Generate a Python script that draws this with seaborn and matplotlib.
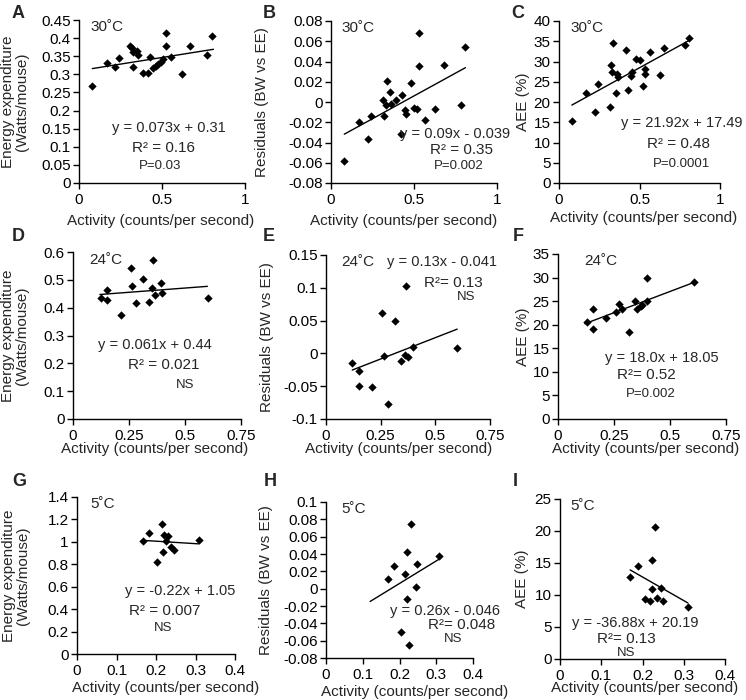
import matplotlib
matplotlib.use("Agg")
import matplotlib.pyplot as plt
import seaborn as sns

# Activity (counts/per second) and response values.
# 30 C
x_30_ee = [0.076, 0.167, 0.217, 0.241, 0.307, 0.317, 0.327, 0.347, 0.357, 0.323,
           0.388, 0.414, 0.428, 0.448, 0.464, 0.478, 0.492, 0.508, 0.524, 0.524,
           0.554, 0.619, 0.669, 0.769, 0.799]
ee_30 = [0.269, 0.331, 0.319, 0.344, 0.379, 0.372, 0.363, 0.365, 0.354, 0.320,
         0.303, 0.303, 0.349, 0.317, 0.323, 0.329, 0.335, 0.342, 0.414, 0.377,
         0.347, 0.301, 0.377, 0.352, 0.406]

x_30_res = [0.080, 0.168, 0.223, 0.243, 0.317, 0.315, 0.336, 0.331, 0.358, 0.362,
            0.393, 0.428, 0.419, 0.448, 0.454, 0.481, 0.501, 0.521, 0.529, 0.531,
            0.565, 0.628, 0.683, 0.781, 0.806]
res_30 = [-0.0586, -0.0197, -0.0368, -0.0141, -0.0134, 0.0023, 0.0204, -0.0033, 0.0099, -0.0016,
          0.0023, 0.0066, -0.0312, -0.0082, -0.0122, 0.0191, -0.0059, -0.0072, 0.0356, 0.0681,
          -0.0181, -0.0072, 0.0362, -0.0033, 0.0543]

x_30_aee = [0.083, 0.170, 0.224, 0.244, 0.315, 0.321, 0.327, 0.335, 0.356, 0.362,
            0.368, 0.414, 0.430, 0.445, 0.455, 0.480, 0.501, 0.522, 0.532, 0.532,
            0.563, 0.625, 0.652, 0.781, 0.807]
aee_30 = [15.3, 22.3, 17.5, 24.4, 18.8, 29.2, 27.4, 34.6, 22.1, 26.8,
          26.2, 32.8, 22.9, 26.3, 27.4, 30.7, 30.3, 24.0, 28.2, 27.0,
          32.3, 26.6, 33.4, 34.0, 35.8]

# 24 C
x_24_ee = [0.124, 0.150, 0.153, 0.213, 0.258, 0.265, 0.280, 0.314, 0.339, 0.351,
           0.358, 0.366, 0.391, 0.396, 0.604]
ee_24 = [0.433, 0.465, 0.429, 0.373, 0.544, 0.477, 0.417, 0.504, 0.421, 0.472,
         0.573, 0.445, 0.489, 0.453, 0.433]

x_24_res = [0.120, 0.152, 0.152, 0.212, 0.255, 0.267, 0.285, 0.316, 0.343, 0.361,
            0.365, 0.374, 0.400, 0.600]
res_24 = [-0.0148, -0.0275, -0.0493, -0.0519, 0.0623, -0.0047, -0.0772, 0.0496, -0.0113, -0.0021,
          0.1029, -0.0056, 0.0105, 0.0085]

x_24_aee = [0.129, 0.156, 0.156, 0.215, 0.259, 0.271, 0.285, 0.315, 0.343, 0.354,
            0.369, 0.376, 0.396, 0.396, 0.607]
aee_24 = [20.5, 23.3, 19.0, 21.4, 22.8, 24.4, 23.3, 18.5, 25.1, 23.3,
          24.0, 24.2, 30.0, 25.1, 29.0]

# 5 C
x_5_ee = [0.168, 0.183, 0.203, 0.214, 0.218, 0.220, 0.225, 0.231, 0.239, 0.246, 0.308]
ee_5 = [1.011, 1.079, 0.821, 1.162, 0.906, 1.058, 1.005, 1.055, 0.951, 0.930, 1.013]

x_5_res = [0.169, 0.186, 0.204, 0.215, 0.221, 0.221, 0.226, 0.231, 0.245, 0.248, 0.307]
res_5 = [0.0115, 0.0257, -0.0500, 0.0170, 0.0419, -0.0115, -0.0646, 0.0750, 0.0015, 0.0285, 0.0373]

x_5_aee = [0.170, 0.188, 0.207, 0.219, 0.223, 0.224, 0.231, 0.235, 0.246, 0.250, 0.311]
aee_5 = [12.8, 14.6, 9.4, 9.1, 15.4, 10.9, 20.7, 9.6, 11.1, 9.1, 8.2]

# Published linear fits: slope, intercept, x range of the drawn line
fit_slope = [0.073, 0.09, 21.92, 0.061, 0.13, 18.0, -0.22, 0.26, -36.88]
fit_intercept = [0.31, -0.039, 17.49, 0.44, -0.041, 18.05, 1.05, -0.046, 20.19]
fit_x0 = [0.08, 0.08, 0.08, 0.12, 0.12, 0.12, 0.168, 0.12, 0.17]
fit_x1 = [0.81, 0.81, 0.81, 0.60, 0.60, 0.60, 0.308, 0.308, 0.31]

eq_text = ["y = 0.073x + 0.31", "y = 0.09x - 0.039", "y = 21.92x + 17.49",
           "y = 0.061x + 0.44", "y = 0.13x - 0.041", "y = 18.0x + 18.05",
           "y = -0.22x + 1.05", "y = 0.26x - 0.046", "y = -36.88x + 20.19"]
r2_text = ["R² = 0.16", "R² = 0.35", "R² = 0.48",
           "R² = 0.021", "R²= 0.13", "R²= 0.52",
           "R² = 0.007", "R²= 0.048", "R²= 0.13"]
p_text = ["P=0.03", "P=0.002", "P=0.0001", "NS", "NS", "P=0.002", "NS", "NS", "NS"]
temps = ["30˚C", "24˚C", "5˚C"]

ee_label = "Energy expenditure\n(Watts/mouse)"
res_label = "Residuals (BW vs EE)"
aee_label = "AEE (%)"
x_label = "Activity (counts/per second)"

sns.set_style("ticks")
plt.rcParams["font.family"] = ["Liberation Sans", "DejaVu Sans"]
plt.rcParams["axes.unicode_minus"] = False

W, H = 746, 700
fig = plt.figure(figsize=(W / 100, H / 100), dpi=100)

# layout per panel: rect in pixels (left, top, width, height), limits, ticks,
# label / annotation positions in axes fraction
panels = [
    dict(letter="A", rect=(79, 20, 166, 163), x=x_30_ee, y=ee_30, temp=temps[0],
         xlim=(0, 1), xt=[0, 0.5, 1], ylim=(0, 0.45), yt=[i * 0.05 for i in range(10)],
         ylab=ee_label, ylx=-0.30, xlx=0.49, xly=-0.19, tpos=0.066,
         eq=(0.542, 0.336), r2=(0.508, 0.213), p=(0.488, 0.106), lpos=(18, 13)),
    dict(letter="B", rect=(331, 21, 166, 162), x=x_30_res, y=res_30, temp=temps[0],
         xlim=(0, 1), xt=[0, 0.5, 1], ylim=(-0.08, 0.08), yt=[-0.08 + i * 0.02 for i in range(9)],
         ylab=res_label, ylx=-0.373, xlx=0.44, xly=-0.19, tpos=0.064,
         eq=(0.745, 0.30), r2=(0.787, 0.204), p=(0.767, 0.105), lpos=(269, 13)),
    dict(letter="C", rect=(559, 21, 161, 162), x=x_30_aee, y=aee_30, temp=temps[0],
         xlim=(0, 1), xt=[0, 0.5, 1], ylim=(0, 40), yt=list(range(0, 41, 5)),
         ylab=aee_label, ylx=-0.18, xlx=0.525, xly=-0.17, tpos=0.074,
         eq=(0.76, 0.368), r2=(0.743, 0.241), p=(0.763, 0.115), lpos=(518, 13)),
    dict(letter="D", rect=(73, 252, 168, 167), x=x_24_ee, y=ee_24, temp=temps[1],
         xlim=(0, 0.75), xt=[0, 0.25, 0.5, 0.75], ylim=(0, 0.6), yt=[i * 0.1 for i in range(7)],
         ylab=ee_label, ylx=-0.26, xlx=0.486, xly=-0.14, tpos=0.097,
         eq=(0.488, 0.443), r2=(0.538, 0.323), p=(0.667, 0.204), lpos=(18, 237)),
    dict(letter="E", rect=(326, 255, 164, 164), x=x_24_res, y=res_24, temp=temps[1],
         xlim=(0, 0.75), xt=[0, 0.25, 0.5, 0.75], ylim=(-0.1, 0.15), yt=[-0.1 + i * 0.05 for i in range(6)],
         ylab=res_label, ylx=-0.32, xlx=0.44, xly=-0.14, tpos=0.096,
         eq=(0.707, 0.96), r2=(0.774, 0.83), p=(0.854, 0.744), lpos=(269, 236)),
    dict(letter="F", rect=(558, 254, 168, 165), x=x_24_aee, y=aee_24, temp=temps[1],
         xlim=(0, 0.75), xt=[0, 0.25, 0.5, 0.75], ylim=(0, 35), yt=list(range(0, 36, 5)),
         ylab=aee_label, ylx=-0.167, xlx=0.524, xly=-0.14, tpos=0.157,
         eq=(0.617, 0.368), r2=(0.528, 0.264), p=(0.554, 0.152), lpos=(518, 236)),
    dict(letter="G", rect=(77, 497, 158, 157), x=x_5_ee, y=ee_5, temp=temps[2],
         xlim=(0, 0.4), xt=[0, 0.1, 0.2, 0.3, 0.4], ylim=(0, 1.4), yt=[i * 0.2 for i in range(8)],
         ylab=ee_label, ylx=-0.30, xlx=0.56, xly=-0.17, tpos=0.082,
         eq=(0.652, 0.399), r2=(0.553, 0.271), p=(0.546, 0.166), lpos=(19, 481)),
    dict(letter="H", rect=(326, 502, 147, 156), x=x_5_res, y=res_5, temp=temps[2],
         xlim=(0, 0.4), xt=[0, 0.1, 0.2, 0.3, 0.4], ylim=(-0.08, 0.1), yt=[-0.08 + i * 0.02 for i in range(10)],
         ylab=res_label, ylx=-0.358, xlx=0.60, xly=-0.17, tpos=0.107,
         eq=(0.81, 0.299), r2=(0.923, 0.209), p=(0.866, 0.124), lpos=(270, 482)),
    dict(letter="I", rect=(560, 499, 165, 160), x=x_5_aee, y=aee_5, temp=temps[2],
         xlim=(0, 0.4), xt=[0, 0.1, 0.2, 0.3, 0.4], ylim=(0, 25), yt=list(range(0, 26, 5)),
         ylab=aee_label, ylx=-0.186, xlx=0.51, xly=-0.14, tpos=0.065,
         eq=(0.455, 0.225), r2=(0.404, 0.127), p=(0.40, 0.04), lpos=(515, 481)),
]


def fmt(v):
    s = f"{round(v, 3):g}"
    return "0" if s in ("-0", "0") else s


for i, pn in enumerate(panels):
    left, top, w, h = pn["rect"]
    ax = fig.add_axes([left / W, 1 - (top + h) / H, w / W, h / H])

    sns.scatterplot(x=pn["x"], y=pn["y"], ax=ax, marker="D", color="black",
                    s=18, linewidth=0, zorder=3)
    lx = [fit_x0[i], fit_x1[i]]
    ly = [fit_slope[i] * v + fit_intercept[i] for v in lx]
    sns.lineplot(x=lx, y=ly, ax=ax, color="black", linewidth=1.0)

    ax.set_xlim(*pn["xlim"])
    ax.set_ylim(*pn["ylim"])
    ax.set_xticks(pn["xt"])
    ax.set_xticklabels([fmt(v) for v in pn["xt"]])
    ax.set_yticks(pn["yt"])
    ax.set_yticklabels([fmt(v) for v in pn["yt"]])
    ax.tick_params(direction="out", length=4, width=1, labelsize=11,
                   color="black", labelcolor="black")
    ax.tick_params(axis="x", pad=3)
    ax.tick_params(axis="y", pad=2)
    for sp in ("left", "bottom"):
        ax.spines[sp].set_linewidth(1)
        ax.spines[sp].set_color("black")
    sns.despine(ax=ax)
    ax.set_facecolor("none")

    ax.set_ylabel(pn["ylab"], fontsize=11, linespacing=1.0)
    ax.yaxis.set_label_coords(pn["ylx"], 0.5)
    ax.set_xlabel(x_label, fontsize=11)
    ax.xaxis.set_label_coords(pn["xlx"], pn["xly"])

    ax.text(pn["tpos"], 0.955, pn["temp"], transform=ax.transAxes,
            fontsize=11, ha="left", va="center")
    ax.text(*pn["eq"], eq_text[i], transform=ax.transAxes, fontsize=10.5,
            ha="center", va="center")
    ax.text(*pn["r2"], r2_text[i], transform=ax.transAxes, fontsize=11,
            ha="center", va="center")
    ax.text(*pn["p"], p_text[i], transform=ax.transAxes, fontsize=9.5,
            ha="center", va="center")

    fig.text(pn["lpos"][0] / W, 1 - pn["lpos"][1] / H, pn["letter"],
             fontsize=13, fontweight="bold", ha="center", va="center")

fig.savefig("out.png", dpi=100)
